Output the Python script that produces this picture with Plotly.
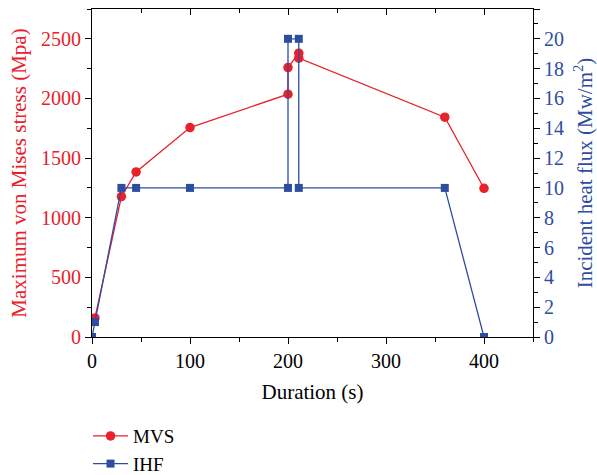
import plotly.graph_objects as go

duration_mvs = [3, 30, 45, 100, 200, 200, 211, 211, 360, 400]
mvs = [160, 1177, 1384, 1756, 2036, 2259, 2380, 2338, 1843, 1247]

duration_ihf = [0, 3, 30, 45, 100, 200, 200, 211, 211, 360, 400]
ihf = [0, 1, 10, 10, 10, 10, 20, 20, 10, 10, 0]

RED = "#e8212b"
BLUE = "#2d4da1"
FONT = "Liberation Serif"

fig = go.Figure()
fig.add_trace(go.Scatter(x=duration_mvs, y=mvs, name="MVS", mode="lines+markers",
                         line=dict(color=RED, width=1.3),
                         marker=dict(symbol="circle", size=9.5, color=RED)))
fig.add_trace(go.Scatter(x=duration_ihf, y=ihf, name="IHF", mode="lines+markers",
                         yaxis="y2",
                         line=dict(color=BLUE, width=1.3),
                         marker=dict(symbol="square", size=8, color=BLUE)))
fig.add_trace(go.Scatter(x=[None], y=[None], xaxis="x2", showlegend=False, hoverinfo="skip"))

axis_common = dict(showgrid=False, zeroline=False, linecolor="black", linewidth=1.2,
                   ticklen=6, tickwidth=1.2, tickcolor="black", automargin=False)

fig.update_layout(
    width=597, height=475,
    margin=dict(l=92, r=64, t=9, b=138),
    plot_bgcolor="white", paper_bgcolor="white",
    font=dict(family=FONT, size=20, color="black"),
    showlegend=True,
    legend=dict(xref="paper", yref="container", x=-0.009, y=0.122,
                xanchor="left", yanchor="top",
                font=dict(family=FONT, size=19), tracegroupgap=0,
                itemwidth=35, bgcolor="rgba(0,0,0,0)"),
    xaxis=dict(range=[0, 450], tickvals=[0, 100, 200, 300, 400], ticks="outside",
               tickfont=dict(size=20),
               title=dict(text="Duration (s)", font=dict(size=21), standoff=13),
               minor=dict(ticks="outside", dtick=50, ticklen=4, tickcolor="black"),
               **axis_common),
    xaxis2=dict(range=[0, 450], overlaying="x", side="top", ticks="inside",
                showticklabels=False, tickvals=[0, 100, 200, 300, 400],
                minor=dict(ticks="inside", dtick=50, ticklen=4, tickcolor="black"),
                showline=True, **axis_common),
    yaxis=dict(range=[0, 2750], tickvals=[0, 500, 1000, 1500, 2000, 2500], ticks="outside",
               tickfont=dict(color=RED, size=20),
               title=dict(text="Maximum von Mises stress (Mpa)", font=dict(color=RED, size=21), standoff=8),
               minor=dict(ticks="outside", dtick=250, ticklen=4, tickcolor="black"),
               **axis_common),
    yaxis2=dict(range=[0, 22], overlaying="y", side="right", ticks="outside",
                tickvals=list(range(0, 23, 2)),
                tickfont=dict(color=BLUE, size=20),
                title=dict(text="Incident heat flux (Mw/m<sup>2</sup>)", font=dict(color=BLUE, size=21), standoff=16),
                minor=dict(ticks="outside", dtick=1, ticklen=4, tickcolor="black"),
                **axis_common),
)

fig.write_html("out.html", config={"displayModeBar": False},
               post_script="document.body.style.margin='0';")
